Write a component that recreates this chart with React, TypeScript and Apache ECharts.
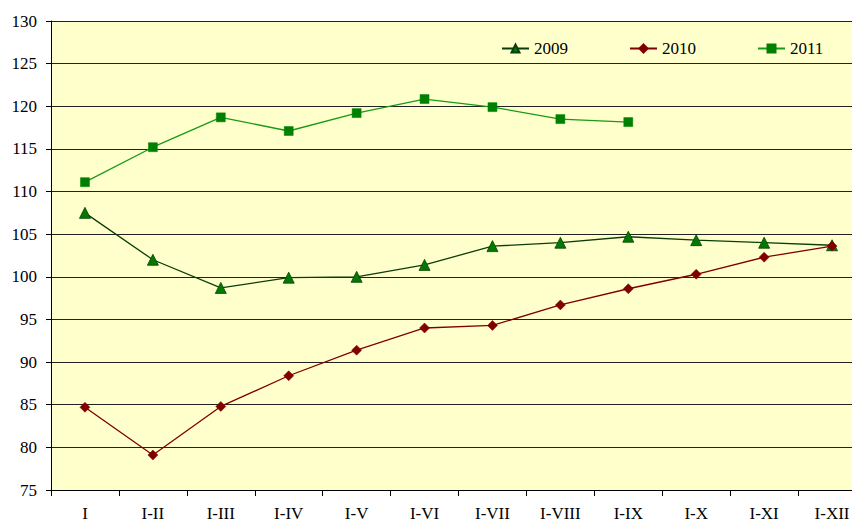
import React, { useEffect, useRef } from "react";
import * as echarts from "echarts";

const categories = ["I", "I-II", "I-III", "I-IV", "I-V", "I-VI", "I-VII", "I-VIII", "I-IX", "I-X", "I-XI", "I-XII"];
const s2009 = [107.5, 102.0, 98.7, 99.9, 100.0, 101.4, 103.6, 104.0, 104.7, 104.3, 104.0, 103.7];
const s2010 = [84.7, 79.1, 84.8, 88.4, 91.4, 94.0, 94.3, 96.7, 98.6, 100.3, 102.3, 103.6];
const s2011 = [111.1, 115.2, 118.7, 117.1, 119.2, 120.85, 119.9, 118.5, 118.15];
const seriesNames = ["2009", "2010", "2011"];

export default function App() {
  const ref = useRef<HTMLDivElement>(null);
  useEffect(() => {
    if (!ref.current) return;
    const chart = echarts.init(ref.current, undefined, { renderer: "svg" });
    const font = "Liberation Serif";
    chart.setOption({
      animation: false,
      backgroundColor: "#ffffff",
      textStyle: { fontFamily: font },
      grid: {
        left: 51, top: 21, right: -14, bottom: 35,
        outerBoundsMode: "none",
        containLabel: false,
        show: true, backgroundColor: "#FFFFCC", borderWidth: 0,
      },
      legend: {
        left: 496,
        top: 35,
        itemWidth: 27,
        itemHeight: 10,
        itemGap: 61,
        textStyle: { fontFamily: font, fontSize: 17, color: "#000" },
        data: seriesNames,
      },
      xAxis: {
        type: "category",
        data: categories,
        boundaryGap: true,
        axisLine: { lineStyle: { color: "#000", width: 1 } },
        axisTick: { show: true, inside: false, length: 6, alignWithLabel: false, lineStyle: { color: "#000" } },
        axisLabel: { fontFamily: font, fontSize: 17, color: "#000", margin: 15, interval: 0 },
        splitLine: { show: false },
      },
      yAxis: {
        type: "value",
        min: 75,
        max: 130,
        interval: 5,
        axisLine: { show: true, lineStyle: { color: "#000", width: 1 } },
        axisTick: { show: true, length: 5, lineStyle: { color: "#000" } },
        axisLabel: { fontFamily: font, fontSize: 17, color: "#000", margin: 14 },
        splitLine: { show: true, lineStyle: { color: "#222", width: 1 } },
      },
      series: [
        {
          name: seriesNames[0],
          type: "line",
          data: s2009,
          symbol: "triangle",
          symbolSize: 11,
          lineStyle: { color: "#0B3D0B", width: 1.3 },
          itemStyle: { color: "#007A00", borderColor: "#0B3D0B", borderWidth: 0.8 },
        },
        {
          name: seriesNames[1],
          type: "line",
          data: s2010,
          symbol: "diamond",
          symbolSize: 10,
          lineStyle: { color: "#800000", width: 1.3 },
          itemStyle: { color: "#800000", borderColor: "#800000", borderWidth: 0.5 },
        },
        {
          name: seriesNames[2],
          type: "line",
          data: s2011,
          symbol: "rect",
          symbolSize: 9,
          lineStyle: { color: "#169B16", width: 1.3 },
          itemStyle: { color: "#008000", borderColor: "#008000", borderWidth: 0.5 },
        },
      ],
    });
    return () => chart.dispose();
  }, []);
  return <div ref={ref} style={{ width: 852, height: 525, position: "absolute", left: 0, top: 0 }} />;
}
